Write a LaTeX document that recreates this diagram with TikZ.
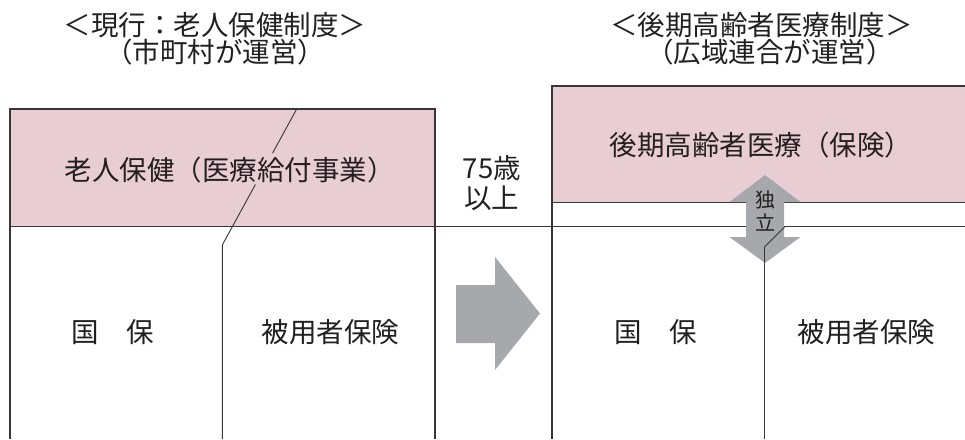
\documentclass[tikz,border=0pt]{standalone}
\usepackage{fontspec}
\setmainfont{Noto Sans CJK JP}
\usetikzlibrary{calc}
\definecolor{pinkfill}{RGB}{233,205,213}
\definecolor{arrowgray}{RGB}{167,168,172}
\definecolor{linec}{RGB}{55,55,55}
\definecolor{txtc}{RGB}{35,31,32}
\tikzset{
  frame/.style={draw=linec, line width=1.1pt},
  lbl/.style={inner sep=0pt, text=txtc, font=\fontsize{27.5}{30}\selectfont, text height=24.2pt, text depth=3.3pt},
  smalllbl/.style={inner sep=0pt, text=txtc, font=\fontsize{20}{22}\selectfont, text height=17.6pt, text depth=2.4pt}
}
\begin{document}
\begin{tikzpicture}[x=1pt,y=-1pt]
\useasboundingbox (0,0) rectangle (965,439);
% pink boxes
\fill[pinkfill] (10,109) rectangle (435,226.5);
\fill[pinkfill] (552,86) rectangle (966,202.5);
\draw[frame] (966,86) -- (552,86) -- (552,439);
\draw[frame] (552,202.5) -- (966,202.5);
\draw[frame] (10,439) -- (10,109) -- (435,109) -- (435,439);
\draw[frame] (10,226.5) -- (966,226.5);
% left divider with gap
\coordinate (la) at (296.7,109);
\coordinate (lb) at (222.3,245);
\coordinate (lc) at (222.3,439);
\draw[frame, line width=0.9pt] (la) -- ($(la)!0.325!(lb)$);
\draw[frame, line width=0.9pt] ($(la)!0.555!(lb)$) -- (lb) -- (lc);
% big right arrow
\fill[arrowgray] (456,285) -- (495,285) -- (495,257) -- (540,313.5) -- (495,370) -- (495,343) -- (456,343) -- cycle;
% double arrow
\fill[arrowgray] (765,175) -- (800.5,202) -- (784,202) -- (784,237) -- (800.5,237) -- (765,263) -- (729.5,237) -- (746,237) -- (746,202) -- (729.5,202) -- cycle;
% right divider (drawn over the double arrow)
\coordinate (ra) at (785,226.5);
\coordinate (rb) at (764.5,247);
\coordinate (rc) at (764.5,439);
\draw[frame, line width=0.9pt] (ra) -- (rb) -- (rc);
% titles
\node[lbl] (t1) at (215,25) {＜現行：老人保健制度＞};
\node[lbl] (t2) at (215,52) {（市町村が運営）};
\node[lbl] (t3) at (761.5,25) {＜後期高齢者医療制度＞};
\node[lbl] (t4) at (770,52) {（広域連合が運営）};
% box texts
\node[lbl] (old) at (229.5,170) {老人保健（医療給付事業）};
\node[lbl] (new) at (761,145) {後期高齢者医療（保険）};
\node[lbl] (age1) at (492,168) {75歳};
\node[lbl] (age2) at (491.5,198) {以上};
\node[lbl] (kl) at (113,332) {国　保};
\node[lbl] (hl) at (330.5,332) {被用者保険};
\node[lbl] (kr) at (656,332) {国　保};
\node[lbl] (hr) at (866.5,332) {被用者保険};
\node[smalllbl] (ind1) at (765,200) {独};
\node[smalllbl] (ind2) at (765,223) {立};
\end{tikzpicture}
\end{document}
